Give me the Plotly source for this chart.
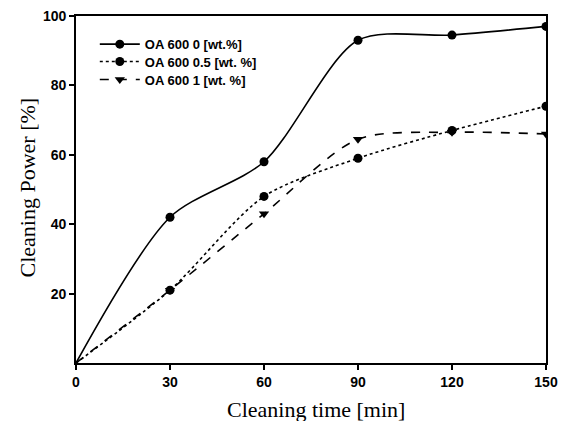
import plotly.graph_objects as go

time_min = [0, 30, 60, 90, 120, 150]
oa_0 = [0, 42, 58, 93, 94.5, 97]
oa_05 = [0, 21, 48, 59, 67, 74]
oa_1 = [0, 21, 43, 64.5, 66.5, 66]

labels = ["OA 600 0 [wt.%]", "OA 600 0.5 [wt. %]", "OA 600 1 [wt. %]"]
series = [oa_0, oa_05, oa_1]
dashes = ["solid", "dot", "dash"]
symbols = ["circle", "circle", "triangle-down"]
legend_ids = ["legend", "legend2", "legend3"]
legend_tops = [0.962, 0.912, 0.860]

fig = go.Figure()
for name, ys, dash, sym, lg in zip(labels, series, dashes, symbols, legend_ids):
    fig.add_trace(go.Scatter(
        x=time_min[1:], y=ys[1:], mode="markers", name=name,
        marker=dict(symbol=sym, size=9, color="black"),
        showlegend=False,
    ))
    fig.add_trace(go.Scatter(
        x=time_min, y=ys, mode="lines", name=name,
        line=dict(color="black", width=1.6, dash=dash, shape="spline", smoothing=0.8),
        showlegend=False,
    ))
    # legend entry combining line and marker
    fig.add_trace(go.Scatter(
        x=[None], y=[None], mode="lines+markers", name=name, legend=lg,
        line=dict(color="black", width=1.6, dash=dash),
        marker=dict(symbol=sym, size=9, color="black"),
    ))

axis_common = dict(
    showline=True, linecolor="black", linewidth=1.6, mirror=True,
    ticks="outside", ticklen=5, tickwidth=1.6, tickcolor="black",
    showgrid=False, zeroline=False,
    tickfont=dict(family="Liberation Sans, Arial", size=14, color="black", weight="bold"),
)

legend_font = dict(family="Liberation Sans, Arial", size=13, color="black", weight="bold")
legend_layout = {
    lg: dict(x=0.04, y=top, xanchor="left", yanchor="top",
             bgcolor="rgba(0,0,0,0)", font=legend_font, itemwidth=40)
    for lg, top in zip(legend_ids, legend_tops)
}

title_font = dict(family="Liberation Serif, Times New Roman", size=22, color="black")

fig.update_layout(
    width=564, height=421,
    paper_bgcolor="white", plot_bgcolor="white",
    margin=dict(l=76, r=18, t=16, b=58, autoexpand=False),
    xaxis=dict(range=[0, 150], tickvals=[0, 30, 60, 90, 120, 150], **axis_common),
    yaxis=dict(range=[0, 100], tickvals=[20, 40, 60, 80, 100], **axis_common),
    showlegend=True,
    annotations=[
        dict(text="Cleaning time [min]", xref="paper", yref="paper", x=0.51, y=0,
             xanchor="center", yanchor="middle", yshift=-46, showarrow=False, font=title_font),
        dict(text="Cleaning Power [%]", xref="paper", yref="paper", x=0, y=0.5,
             xanchor="center", yanchor="middle", xshift=-49, yshift=2, textangle=-90,
             showarrow=False, font=title_font),
    ],
    **legend_layout,
)

fig.write_html("out.html")
